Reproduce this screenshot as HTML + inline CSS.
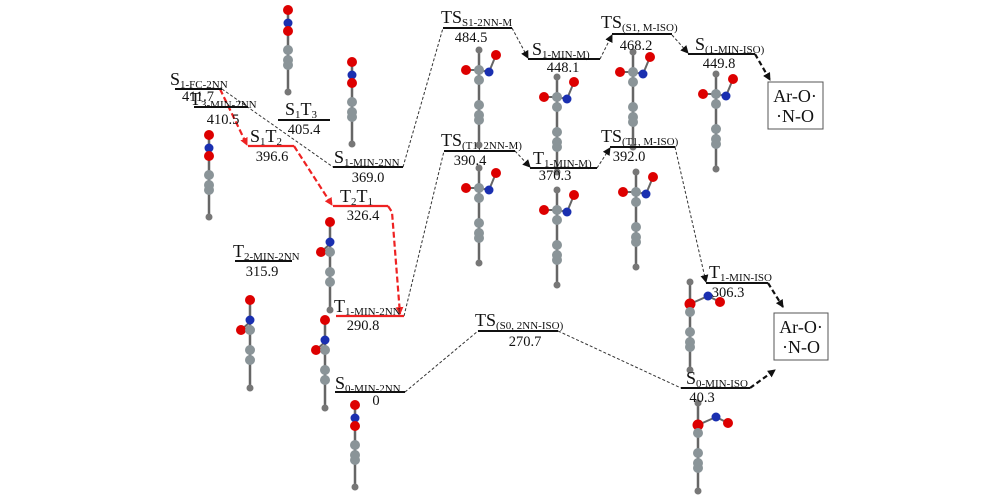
<!DOCTYPE html>
<html><head><meta charset="utf-8"><style>
html,body{margin:0;padding:0;background:#fff;}
svg{display:block;font-family:"Liberation Serif",serif;}
.l{font-size:18px;fill:#111}
.s{font-size:11px}
.v{font-size:14.5px;fill:#111;text-anchor:middle}
</style></head><body>
<svg width="1000" height="500" viewBox="0 0 1000 500" xmlns="http://www.w3.org/2000/svg">
<defs>
<marker id="ab" markerWidth="8" markerHeight="8" refX="7" refY="4" orient="auto" markerUnits="userSpaceOnUse"><path d="M0,0 L8,4 L0,8 z" fill="#111"/></marker>
<marker id="ar" markerWidth="8" markerHeight="8" refX="7" refY="4" orient="auto" markerUnits="userSpaceOnUse"><path d="M0,0 L8,4 L0,8 z" fill="#e22"/></marker>
<g id="lin">
<line x1="0" y1="0" x2="0" y2="82" stroke="#666" stroke-width="2.5"/>
<circle cx="0" cy="0" r="5" fill="#d00"/><circle cx="0" cy="13" r="4.5" fill="#1a2fb0"/><circle cx="0" cy="21" r="5" fill="#d00"/>
<circle cx="0" cy="40" r="5" fill="#8a9498"/><circle cx="0" cy="50" r="5" fill="#8a9498"/><circle cx="0" cy="55" r="5" fill="#8a9498"/><circle cx="0" cy="82" r="3.5" fill="#777"/>
</g>
<g id="bent">
<line x1="0" y1="0" x2="0" y2="95" stroke="#666" stroke-width="2.5"/>
<line x1="-13" y1="20" x2="0" y2="20" stroke="#666" stroke-width="2"/>
<line x1="0" y1="20" x2="10" y2="22" stroke="#666" stroke-width="2"/><line x1="10" y1="22" x2="17" y2="5" stroke="#666" stroke-width="2"/>
<circle cx="0" cy="0" r="3.5" fill="#777"/><circle cx="0" cy="20" r="5" fill="#8a9498"/><circle cx="0" cy="30" r="5" fill="#8a9498"/>
<circle cx="-13" cy="20" r="5" fill="#d00"/><circle cx="10" cy="22" r="4.5" fill="#1a2fb0"/><circle cx="17" cy="5" r="5" fill="#d00"/>
<circle cx="0" cy="55" r="5" fill="#8a9498"/><circle cx="0" cy="65" r="5" fill="#8a9498"/><circle cx="0" cy="70" r="5" fill="#8a9498"/><circle cx="0" cy="95" r="3.5" fill="#777"/>
</g>
<g id="side">
<line x1="0" y1="0" x2="0" y2="88" stroke="#666" stroke-width="2.5"/>
<line x1="0" y1="22" x2="18" y2="14" stroke="#666" stroke-width="2"/><line x1="18" y1="14" x2="30" y2="20" stroke="#666" stroke-width="2"/>
<circle cx="0" cy="0" r="3.5" fill="#777"/><circle cx="0" cy="22" r="5.5" fill="#d00"/><circle cx="18" cy="14" r="4.5" fill="#1a2fb0"/><circle cx="30" cy="20" r="5" fill="#d00"/>
<circle cx="0" cy="30" r="5" fill="#8a9498"/><circle cx="0" cy="50" r="5" fill="#8a9498"/><circle cx="0" cy="60" r="5" fill="#8a9498"/><circle cx="0" cy="65" r="5" fill="#8a9498"/><circle cx="0" cy="88" r="3.5" fill="#777"/>
</g>
<g id="nno">
<line x1="0" y1="0" x2="0" y2="88" stroke="#666" stroke-width="2.5"/>
<line x1="0" y1="22" x2="-9" y2="30" stroke="#666" stroke-width="2"/>
<circle cx="0" cy="0" r="5" fill="#d00"/><circle cx="0" cy="20" r="4.5" fill="#1a2fb0"/><circle cx="-9" cy="30" r="5" fill="#d00"/><circle cx="0" cy="30" r="5" fill="#8a9498"/>
<circle cx="0" cy="50" r="5" fill="#8a9498"/><circle cx="0" cy="60" r="5" fill="#8a9498"/><circle cx="0" cy="88" r="3.5" fill="#777"/>
</g>
</defs>

<use href="#lin" x="288" y="10"/>
<use href="#lin" x="352" y="62"/>
<use href="#lin" x="209" y="135"/>
<use href="#nno" x="330" y="222"/>
<use href="#nno" x="250" y="300"/>
<use href="#nno" x="325" y="320"/>
<use href="#lin" x="355" y="405"/>
<use href="#bent" x="479" y="50"/>
<use href="#bent" x="557" y="77"/>
<use href="#bent" x="633" y="52"/>
<use href="#bent" x="716" y="74"/>
<use href="#bent" x="479" y="168"/>
<use href="#bent" x="557" y="190"/>
<use href="#bent" x="636" y="172"/>
<use href="#side" x="690" y="282"/>
<use href="#side" x="698" y="403"/>

<g fill="none" stroke="#333" stroke-width="1" stroke-dasharray="3,2">
<line x1="222" y1="89" x2="333" y2="167"/>
<line x1="403" y1="167" x2="443" y2="28"/>
<line x1="404" y1="316" x2="444" y2="151"/>
<line x1="405" y1="392" x2="478" y2="331"/>
<line x1="558" y1="331" x2="681" y2="388"/>
<line x1="512" y1="28" x2="528" y2="58" marker-end="url(#ab)"/>
<line x1="600" y1="59" x2="612" y2="35" marker-end="url(#ab)"/>
<line x1="672" y1="35" x2="688" y2="53" marker-end="url(#ab)"/>
<line x1="515" y1="151" x2="530" y2="167" marker-end="url(#ab)"/>
<line x1="597" y1="168" x2="610" y2="148" marker-end="url(#ab)"/>
<line x1="675" y1="147" x2="706" y2="282" marker-end="url(#ab)"/>
</g>
<g fill="none" stroke="#111" stroke-width="2.2" stroke-dasharray="5,3">
<line x1="755" y1="54" x2="770" y2="80" marker-end="url(#ab)"/>
<line x1="768" y1="283" x2="783" y2="307" marker-end="url(#ab)"/>
<line x1="750" y1="388" x2="775" y2="370" marker-end="url(#ab)"/>
</g>
<g fill="none" stroke="#e22" stroke-width="2.2" stroke-dasharray="6,3">
<line x1="220" y1="89" x2="247" y2="145" marker-end="url(#ar)"/>
<line x1="294" y1="146" x2="332" y2="205" marker-end="url(#ar)"/>
<polyline points="388,206 392,212 400,314" marker-end="url(#ar)"/>
</g>

<g stroke="#111" stroke-width="2">
<line x1="175" y1="89" x2="222" y2="89"/>
<line x1="194" y1="107" x2="248" y2="107"/>
<line x1="278" y1="120" x2="330" y2="120"/>
<line x1="333" y1="167" x2="403" y2="167"/>
<line x1="235" y1="261" x2="292" y2="261"/>
<line x1="335" y1="392" x2="405" y2="392"/>
<line x1="443" y1="28" x2="512" y2="28"/>
<line x1="528" y1="59" x2="600" y2="59"/>
<line x1="612" y1="34" x2="672" y2="34"/>
<line x1="688" y1="54" x2="755" y2="54"/>
<line x1="444" y1="151" x2="515" y2="151"/>
<line x1="530" y1="168" x2="597" y2="168"/>
<line x1="610" y1="147" x2="675" y2="147"/>
<line x1="478" y1="331" x2="558" y2="331"/>
<line x1="706" y1="283" x2="768" y2="283"/>
<line x1="681" y1="388" x2="750" y2="388"/>
</g>
<g stroke="#e22" stroke-width="2.2">
<line x1="248" y1="146" x2="294" y2="146"/>
<line x1="333" y1="206" x2="388" y2="206"/>
<line x1="336" y1="316" x2="404" y2="316"/>
</g>

<text class="l" x="170" y="85">S<tspan class="s" dy="3">1-FC-2NN</tspan></text><text class="v" x="198" y="101">411.7</text>
<text class="l" x="190" y="105">T<tspan class="s" dy="3">3-MIN-2NN</tspan></text><text class="v" x="223" y="124">410.5</text>
<text class="l" x="285" y="115">S<tspan class="s" dy="3">1</tspan><tspan dy="-3">T</tspan><tspan class="s" dy="3">3</tspan></text><text class="v" x="304" y="134">405.4</text>
<text class="l" x="250" y="142">S<tspan class="s" dy="3">1</tspan><tspan dy="-3">T</tspan><tspan class="s" dy="3">2</tspan></text><text class="v" x="272" y="161">396.6</text>
<text class="l" x="334" y="163">S<tspan class="s" dy="3">1-MIN-2NN</tspan></text><text class="v" x="368" y="182">369.0</text>
<text class="l" x="340" y="202">T<tspan class="s" dy="3">2</tspan><tspan dy="-3">T</tspan><tspan class="s" dy="3">1</tspan></text><text class="v" x="363" y="220">326.4</text>
<text class="l" x="233" y="257">T<tspan class="s" dy="3">2-MIN-2NN</tspan></text><text class="v" x="262" y="276">315.9</text>
<text class="l" x="334" y="312">T<tspan class="s" dy="3">1-MIN-2NN</tspan></text><text class="v" x="363" y="330">290.8</text>
<text class="l" x="335" y="389">S<tspan class="s" dy="3">0-MIN-2NN</tspan></text><text class="v" x="376" y="405">0</text>
<text class="l" x="441" y="23">TS<tspan class="s" dy="3">S1-2NN-M</tspan></text><text class="v" x="471" y="42">484.5</text>
<text class="l" x="532" y="55">S<tspan class="s" dy="3">1-MIN-M)</tspan></text><text class="v" x="563" y="72">448.1</text>
<text class="l" x="601" y="28">TS<tspan class="s" dy="3">(S1, M-ISO)</tspan></text><text class="v" x="636" y="50">468.2</text>
<text class="l" x="695" y="50">S<tspan class="s" dy="3">(1-MIN-ISO)</tspan></text><text class="v" x="719" y="68">449.8</text>
<text class="l" x="441" y="146">TS<tspan class="s" dy="3">(T1, 2NN-M)</tspan></text><text class="v" x="470" y="165">390.4</text>
<text class="l" x="533" y="164">T<tspan class="s" dy="3">1-MIN-M)</tspan></text><text class="v" x="555" y="180">370.3</text>
<text class="l" x="601" y="142">TS<tspan class="s" dy="3">(T1, M-ISO)</tspan></text><text class="v" x="629" y="161">392.0</text>
<text class="l" x="475" y="326">TS<tspan class="s" dy="3">(S0, 2NN-ISO)</tspan></text><text class="v" x="525" y="346">270.7</text>
<text class="l" x="709" y="278">T<tspan class="s" dy="3">1-MIN-ISO</tspan></text><text class="v" x="728" y="297">306.3</text>
<text class="l" x="686" y="384">S<tspan class="s" dy="3">0-MIN-ISO</tspan></text><text class="v" x="702" y="402">40.3</text>

<rect x="768" y="82" width="55" height="47" fill="#fff" stroke="#555" stroke-width="1"/>
<text class="v" x="795" y="102" style="font-size:18px">Ar-O·</text>
<text class="v" x="795" y="122" style="font-size:18px">·N-O</text>
<rect x="774" y="313" width="54" height="47" fill="#fff" stroke="#555" stroke-width="1"/>
<text class="v" x="801" y="333" style="font-size:18px">Ar-O·</text>
<text class="v" x="801" y="353" style="font-size:18px">·N-O</text>
</svg>
</body></html>
